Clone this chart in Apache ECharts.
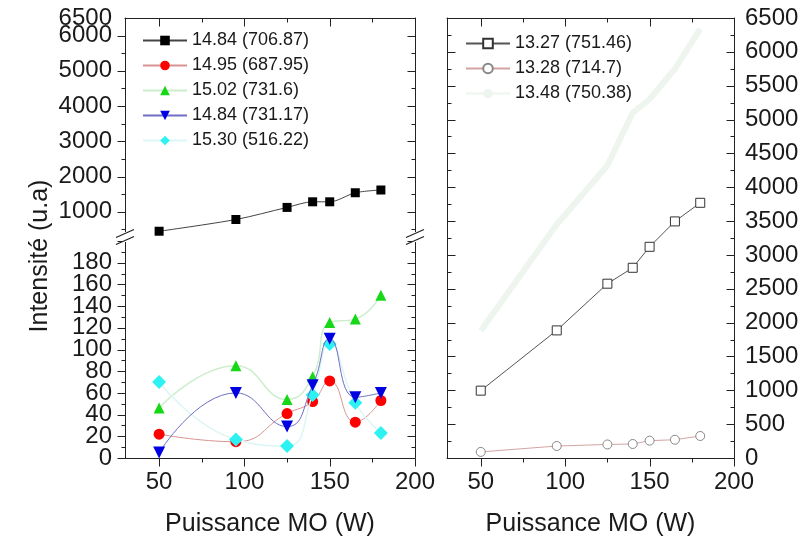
<!DOCTYPE html>
<html><head><meta charset="utf-8">
<script src="https://cdn.jsdelivr.net/npm/echarts@6/dist/echarts.min.js"></script>
<style>html,body{margin:0;padding:0;background:#fff}#c{width:803px;height:543px}</style>
</head><body><div id="c"></div>
<script>
// ---- data ----
const power = [50, 95, 125, 140, 150, 165, 180];
const s1484a = [450, 783, 1126, 1285, 1285, 1542, 1620];   // 14.84 (706.87)
const s1495 = [22, 15, 41, 52, 71, 33, 53];                // 14.95 (687.95)
const s1502 = [46, 85, 54, 75, 125, 128, 150];             // 15.02 (731.6)
const s1484b = [5, 60, 29, 67, 110, 56, 60];               // 14.84 (731.17)
const s1530 = [70, 17, 11, 58, 105, 51, 23];               // 15.30 (516.22)
const s1327 = [995, 1885, 2575, 2810, 3120, 3495, 3770];   // 13.27 (751.46)
const s1328 = [90, 177, 200, 207, 256, 270, 325];          // 13.28 (714.7)
const s1348 = [1880, 3450, 4320, 5100, 5300, 5750, 6340];  // 13.48 (750.38)
const names = ['14.84 (706.87)', '14.95 (687.95)', '15.02 (731.6)', '14.84 (731.17)', '15.30 (516.22)',
               '13.27 (751.46)', '13.28 (714.7)', '13.48 (750.38)'];
// ticks / tick labels
const xMajor = [50, 100, 150, 200];
const xTopMajor = [50, 100, 150];
const xMinor = [75, 125, 175];
const topLabels = [1000, 2000, 3000, 4000, 5000, 6000, 6500];
const topMajor = [1000, 2000, 3000, 4000, 5000, 6000];
const topMinor = [500, 1500, 2500, 3500, 4500, 5500];
const lowLabels = [0, 20, 40, 60, 80, 100, 120, 140, 160, 180];
const lowMajor = [0, 20, 40, 60, 80, 100, 120, 140, 160, 180, 200];
const lowMinor = [10, 30, 50, 70, 90, 110, 130, 150, 170, 190];
const rMajor = [0, 500, 1000, 1500, 2000, 2500, 3000, 3500, 4000, 4500, 5000, 5500, 6000, 6500];
const rMinor = [250, 750, 1250, 1750, 2250, 2750, 3250, 3750, 4250, 4750, 5250, 5750, 6250];

const pts = a => power.map((x, i) => [x, a[i]]);
const FONT = 'Liberation Sans, Arial, sans-serif';
const AXC = '#222';
const AX = {color: AXC, width: 1};
const TXT = '#1a1a1a';
const plain = v => String(v);
const XR = [30, 200];

const LINE = {show: true, onZero: false, lineStyle: AX};
function ax(grid, pos, min, max, o) {
  return Object.assign({
    gridIndex: grid, type: 'value', min: min, max: max, position: pos,
    axisLine: LINE, axisTick: {show: false}, minorTick: {show: false},
    axisLabel: {show: false}, splitLine: {show: false}
  }, o);
}
function lbl(custom, margin) {
  const l = {show: true, fontSize: 24, fontFamily: FONT, color: TXT, margin: margin,
    showMinLabel: true, showMaxLabel: true, hideOverlap: false, formatter: plain};
  if (custom) l.customValues = custom;
  return l;
}
const xName = {name: 'Puissance MO (W)', nameLocation: 'middle', nameGap: 54,
  nameTextStyle: {fontSize: 25, fontFamily: FONT, color: TXT}};

const xAxes = [
  ax(0, 'top', XR[0], XR[1]),                                                     // 0 grid0 top
  ax(1, 'bottom', XR[0], XR[1], Object.assign({axisLabel: lbl(xMajor, 12)}, xName)), // 1 grid1 bottom
  ax(2, 'bottom', XR[0], XR[1], Object.assign({axisLabel: lbl(xMajor, 12)}, xName)), // 2 grid2 bottom
  ax(2, 'top', XR[0], XR[1])                                                      // 3 grid2 top
];
const yAxes = [
  ax(0, 'left', 400, 6500),   // 0
  ax(0, 'right', 400, 6500),  // 1
  ax(1, 'left', 0, 200),      // 2
  ax(1, 'right', 0, 200),     // 3
  ax(2, 'left', 0, 6500),     // 4
  ax(2, 'right', 0, 6500, {interval: 500, axisLabel: lbl(null, 11)}) // 5
];

function ser(i, data, xi, yi, o) {
  return Object.assign({name: names[i], type: 'line', data: pts(data), xAxisIndex: xi, yAxisIndex: yi,
    emphasis: {disabled: true}, silent: true}, o);
}
const series = [
  ser(0, s1484a, 0, 0, {symbol: 'rect', symbolSize: 9, smooth: 0.3, itemStyle: {color: '#000'}, lineStyle: {color: '#444', width: 1}, z: 5}),
  ser(1, s1495, 1, 2, {symbol: 'circle', symbolSize: 11, smooth: true, itemStyle: {color: '#f00'}, lineStyle: {color: '#d89494', width: 1}, z: 4}),
  ser(2, s1502, 1, 2, {symbol: 'triangle', symbolSize: 11, smooth: true, itemStyle: {color: '#16d816'}, lineStyle: {color: '#cdeecd', width: 1.5}, z: 3}),
  ser(3, s1484b, 1, 2, {symbol: 'triangle', symbolRotate: 180, symbolSize: 12, smooth: true, itemStyle: {color: '#0000e0'}, lineStyle: {color: '#6e6ec4', width: 1}, z: 6}),
  ser(4, s1530, 1, 2, {symbol: 'diamond', symbolSize: 14, smooth: true, itemStyle: {color: '#2ef2f2'}, lineStyle: {color: '#dcf5f5', width: 1.5}, z: 5}),
  ser(5, s1327, 2, 5, {symbol: 'rect', symbolSize: 9, itemStyle: {color: '#fff', borderColor: '#333', borderWidth: 1}, lineStyle: {color: '#555', width: 1}, z: 5}),
  ser(6, s1328, 2, 5, {symbol: 'circle', symbolSize: 9, itemStyle: {color: '#fff', borderColor: '#888', borderWidth: 1}, lineStyle: {color: '#d4a4a4', width: 1}, z: 4}),
  ser(7, s1348, 2, 5, {symbol: 'none', itemStyle: {color: '#eef5ee'}, lineStyle: {color: '#eef5ee', width: 6}, z: 1})
];

const legendBase = {orient: 'vertical', itemWidth: 44, itemHeight: 12, itemGap: 6,
  textStyle: {fontSize: 18, fontFamily: FONT, color: TXT, lineHeight: 19}, selectedMode: false};

const chart = echarts.init(document.getElementById('c'), null, {renderer: 'canvas'});
chart.setOption({
  animation: false,
  backgroundColor: '#fff',
  grid: [
    {left: 125, right: 388, top: 18, height: 215},
    {left: 125, right: 388, top: 241, height: 217},
    {left: 447, right: 69, top: 18, height: 440}
  ],
  xAxis: xAxes,
  yAxis: yAxes,
  legend: [
    Object.assign({}, legendBase, {left: 137, top: 26, data: names.slice(0, 5)}),
    Object.assign({}, legendBase, {left: 460, top: 29, data: names.slice(5)})
  ],
  series: series
});

// ---- ticks, left labels, breaks: positioned through the axes' own scales ----
const G = [];
// side: 0 left, 1 right, 2 bottom, 3 top ; inw: true inward
function ticks(xi, yi, yr, side, vals, len, inw) {
  vals.forEach(v => {
    let x1, y1, x2, y2;
    if (side <= 1) {
      const p = chart.convertToPixel({xAxisIndex: xi, yAxisIndex: yi}, [side === 0 ? XR[0] : XR[1], v]);
      const dir = (side === 0 ? -1 : 1) * (inw ? -1 : 1);
      const y = Math.round(p[1]) + 0.5;
      x1 = Math.round(p[0]) + 0.5; x2 = x1 + dir * len; y1 = y; y2 = y;
    } else {
      const p = chart.convertToPixel({xAxisIndex: xi, yAxisIndex: yi}, [v, side === 2 ? yr[0] : yr[1]]);
      const dir = (side === 2 ? 1 : -1) * (inw ? -1 : 1);
      const x = Math.round(p[0]) + 0.5;
      y1 = Math.round(p[1]) + 0.5; y2 = y1 + dir * len; x1 = x; x2 = x;
    }
    G.push({type: 'line', silent: true, z: 50, shape: {x1: x1, y1: y1, x2: x2, y2: y2}, style: {stroke: AXC, lineWidth: 1}});
  });
}
function yLabels(xi, yi, vals) {
  vals.forEach(v => {
    const p = chart.convertToPixel({xAxisIndex: xi, yAxisIndex: yi}, [XR[0], v]);
    G.push({type: 'text', silent: true, z: 50, x: p[0] - 13, y: p[1],
      style: {text: String(v), fontSize: 24, fontFamily: FONT, fill: TXT, align: 'right', verticalAlign: 'middle'}});
  });
}
// grid 0
ticks(0, 0, [400, 6500], 3, xTopMajor, 8, true);
ticks(0, 0, [400, 6500], 3, xMinor, 4, true);
ticks(0, 0, [400, 6500], 0, topMajor, 8, false);
ticks(0, 0, [400, 6500], 0, topMinor, 4, false);
ticks(0, 0, [400, 6500], 1, topMajor, 8, true);
ticks(0, 0, [400, 6500], 1, topMinor, 4, true);
yLabels(0, 0, topLabels);
// grid 1
ticks(1, 2, [0, 200], 2, xMajor, 8, false);
ticks(1, 2, [0, 200], 2, xMinor, 4, false);
ticks(1, 2, [0, 200], 0, lowMajor, 8, false);
ticks(1, 2, [0, 200], 0, lowMinor, 4, false);
ticks(1, 2, [0, 200], 1, lowMajor, 8, true);
ticks(1, 2, [0, 200], 1, lowMinor, 4, true);
yLabels(1, 2, lowLabels);
// grid 2
ticks(2, 5, [0, 6500], 2, xMajor, 8, false);
ticks(2, 5, [0, 6500], 2, xMinor, 4, false);
ticks(3, 5, [0, 6500], 3, xTopMajor, 8, true);
ticks(3, 5, [0, 6500], 3, xMinor, 4, true);
ticks(2, 4, [0, 6500], 0, rMajor, 8, true);
ticks(2, 4, [0, 6500], 0, rMinor, 4, true);
ticks(2, 5, [0, 6500], 1, rMajor, 8, true);
ticks(2, 5, [0, 6500], 1, rMinor, 4, true);

function brk(x) {
  G.push({type: 'rect', silent: true, shape: {x: x - 3, y: 232, width: 6, height: 10}, style: {fill: '#fff'}, z: 100});
  G.push({type: 'line', silent: true, shape: {x1: x - 9, y1: 237.5, x2: x + 9, y2: 229.5}, style: {stroke: AXC, lineWidth: 1.2}, z: 101});
  G.push({type: 'line', silent: true, shape: {x1: x - 9, y1: 244.5, x2: x + 9, y2: 236.5}, style: {stroke: AXC, lineWidth: 1.2}, z: 101});
}
brk(chart.convertToPixel({xAxisIndex: 1, yAxisIndex: 2}, [XR[0], 0])[0]);
brk(chart.convertToPixel({xAxisIndex: 1, yAxisIndex: 2}, [XR[1], 0])[0]);
G.push({type: 'text', silent: true, x: 40, y: 256, rotation: Math.PI / 2,
  style: {text: 'Intensité (u.a)', fontSize: 25, fontFamily: FONT, fill: TXT, align: 'center', verticalAlign: 'middle'}});

chart.setOption({graphic: G});
</script></body></html>
